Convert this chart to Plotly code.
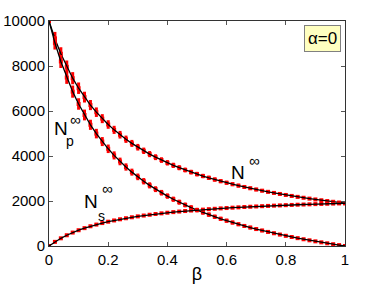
import plotly.graph_objects as go

beta = [round(i * 0.02, 2) for i in range(51)]

N_inf = [10000, 9215, 8544, 7964, 7458, 7013, 6617, 6264, 5947, 5660,
         5400, 5162, 4945, 4745, 4560, 4390, 4232, 4084, 3947, 3819,
         3698, 3585, 3479, 3379, 3284, 3195, 3110, 3030, 2954, 2881,
         2812, 2746, 2684, 2624, 2566, 2511, 2459, 2408, 2360, 2313,
         2269, 2226, 2184, 2144, 2106, 2069, 2033, 1998, 1965, 1932, 1901]

N_p = [10000, 9031, 8202, 7486, 6861, 6312, 5823, 5387, 4995, 4641,
       4320, 4026, 3758, 3511, 3283, 3073, 2878, 2695, 2526, 2368,
       2219, 2079, 1948, 1825, 1708, 1597, 1493, 1394, 1300, 1210,
       1125, 1043, 966, 892, 821, 753, 689, 626, 566, 509,
       454, 401, 349, 300, 253, 207, 163, 120, 79, 39, 0]

N_s = [0, 184, 342, 478, 597, 701, 794, 877, 952, 1019,
       1080, 1136, 1187, 1234, 1277, 1317, 1354, 1389, 1421, 1451,
       1479, 1506, 1531, 1554, 1576, 1598, 1617, 1636, 1654, 1671,
       1687, 1703, 1718, 1732, 1745, 1758, 1770, 1782, 1794, 1804,
       1815, 1825, 1835, 1844, 1853, 1862, 1870, 1878, 1886, 1893, 1901]

err_big = [0, 300, 290, 280, 270, 255, 240, 225, 212, 200,
           190, 180, 170, 162, 155, 148, 142, 136, 130, 125,
           120, 116, 112, 108, 105, 102, 99, 96, 93, 90,
           87, 84, 82, 80, 78, 76, 74, 72, 70, 68,
           66, 64, 62, 60, 58, 56, 54, 52, 50, 48, 40]
err_s = [40] * 51

fig = go.Figure()
for ys, es in [(N_inf, err_big), (N_p, err_big), (N_s, err_s)]:
    fig.add_trace(go.Scatter(
        x=beta, y=ys, mode="markers",
        marker=dict(color="red", size=4, symbol="square"),
        error_y=dict(type="data", array=es, color="red", thickness=3, width=0),
        showlegend=False, hoverinfo="skip"))
    fig.add_trace(go.Scatter(
        x=beta, y=ys, mode="lines",
        line=dict(color="black", width=1.3),
        showlegend=False, hoverinfo="skip"))

font = "Liberation Sans, Arial, sans-serif"
labels = [
    ("N", 0.639, 3289, 19), ("∞", 0.693, 3822, 15),
    ("N", 0.041, 5244, 19), ("p", 0.071, 4667, 14), ("∞", 0.091, 5644, 15),
    ("N", 0.142, 1956, 19), ("s", 0.176, 1333, 14), ("∞", 0.199, 2578, 15),
]
for t, x, y, s in labels:
    fig.add_annotation(x=x, y=y, text=t, showarrow=False, xref="x", yref="y",
                       font=dict(family=font, size=s, color="black"))

fig.add_annotation(x=0.924, y=0.922, xref="paper", yref="paper", text="α=0",
                   xanchor="center", yanchor="middle",
                   showarrow=False, bgcolor="#ffffc0", bordercolor="#808080",
                   borderwidth=1, borderpad=3,
                   font=dict(family=font, size=17, color="black"))

axis_common = dict(showgrid=False, zeroline=False, showline=True, mirror="ticks",
                   linecolor="#333333", linewidth=1, ticks="inside", ticklen=4,
                   tickcolor="#555555", automargin=False,
                   tickfont=dict(family=font, size=15, color="black"))
fig.update_xaxes(range=[0, 1], tickvals=[0, 0.2, 0.4, 0.6, 0.8, 1],
                 ticktext=["0", "0.2", "0.4", "0.6", "0.8", "1"],
                 title=dict(text="β", font=dict(family=font, size=18, color="black"),
                            standoff=0),
                 **axis_common)
fig.update_yaxes(range=[0, 10000], tickvals=[0, 2000, 4000, 6000, 8000, 10000],
                 ticktext=["0", "2000", "4000", "6000", "8000", "10000"],
                 **axis_common)
fig.update_layout(width=381, height=287, margin=dict(l=49, r=36, t=21, b=41),
                  plot_bgcolor="white", paper_bgcolor="white", hovermode=False)
fig.write_html("out.html", config={"displayModeBar": False},
               post_script="document.body.style.margin='0px';")
